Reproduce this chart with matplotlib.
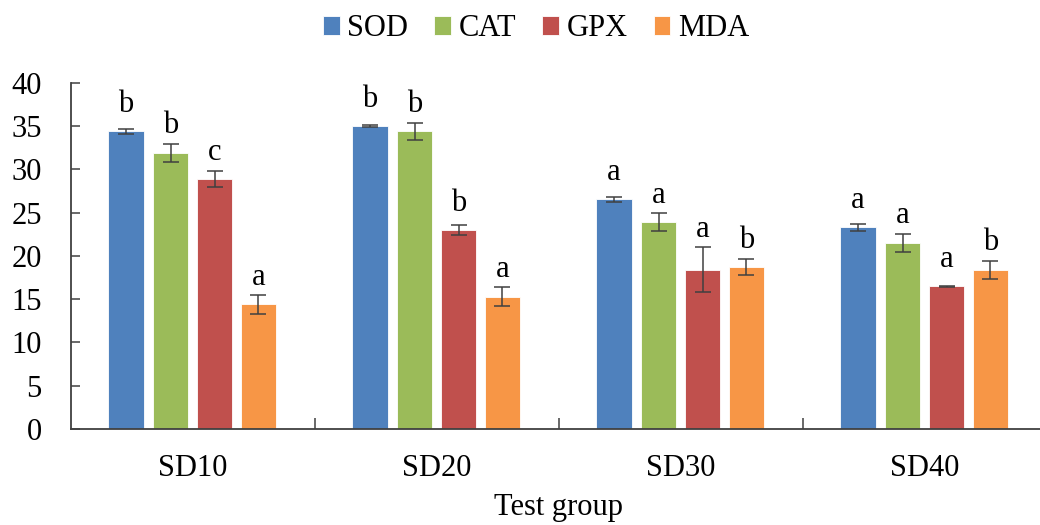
import matplotlib
matplotlib.use("Agg")
import matplotlib.pyplot as plt
import numpy as np

plt.rcParams['font.family'] = ['Liberation Serif', 'DejaVu Serif']
plt.rcParams['font.size'] = 22

groups = ["SD10", "SD20", "SD30", "SD40"]
series = ["SOD", "CAT", "GPX", "MDA"]
colors = ["#4F81BD", "#9BBB59", "#C0504D", "#F79646"]

sod = [34.4, 35.0, 26.55, 23.3]
cat = [31.9, 34.4, 23.9, 21.5]
gpx = [28.9, 23.0, 18.4, 16.5]
mda = [14.4, 15.3, 18.7, 18.4]

sod_err = [0.3, 0.15, 0.3, 0.38]
cat_err = [1.06, 0.98, 1.06, 1.06]
gpx_err = [0.92, 0.6, 2.6, 0.05]
mda_err = [1.06, 1.06, 0.96, 1.04]

sod_sig = ["b", "b", "a", "a"]
cat_sig = ["b", "b", "a", "a"]
gpx_sig = ["c", "b", "a", "a"]
mda_sig = ["a", "a", "b", "b"]

values = [sod, cat, gpx, mda]
errors = [sod_err, cat_err, gpx_err, mda_err]
letters = [sod_sig, cat_sig, gpx_sig, mda_sig]

fig = plt.figure(figsize=(10.4, 5.25), dpi=100)
ax = fig.add_axes([71 / 1040, 96 / 525, 976 / 1040, 346.3 / 525])

x = np.arange(len(groups))
offsets = [-0.275, -0.092, 0.089, 0.268]
width = 0.145

handles = []
for i in range(4):
    b = ax.bar(x + offsets[i], values[i], width, color=colors[i],
               edgecolor="white", linewidth=0.6, label=series[i], zorder=2)
    handles.append(b)
    ax.errorbar(x + offsets[i], values[i], yerr=errors[i], fmt="none",
                ecolor="#404040", elinewidth=1.1, capsize=6, capthick=1.1,
                zorder=3)
    # significance letters above each bar
    for j in range(len(groups)):
        v = values[i][j]
        e = errors[i][j]
        ypos = max(v + 2.2, v + e + 1.2)
        ax.text(x[j] + offsets[i], ypos, letters[i][j], ha="center",
                va="baseline", fontsize=22)

ax.set_xlim(-0.5, 3.5)
ax.set_ylim(0, 40)
ax.set_yticks(np.arange(0, 41, 5))
ax.set_xticks(x)
ax.set_xticklabels(groups)
ax.set_xticks(np.arange(0.5, 3.5, 1.0), minor=True)

for s in ["top", "right"]:
    ax.spines[s].set_visible(False)
for s in ["left", "bottom"]:
    ax.spines[s].set_color("#404040")
    ax.spines[s].set_linewidth(1.3)

ax.tick_params(axis="y", direction="in", length=6.5, width=1.1,
               color="#404040", pad=21)
ax.tick_params(axis="x", which="major", length=0, pad=18)
ax.tick_params(axis="x", which="minor", direction="in", length=7.7,
               width=1.1, color="#404040")

ax.set_xlabel("Test group", labelpad=7)

fig.legend(handles=handles, labels=series, loc="center",
           bbox_to_anchor=(536 / 1040, 0.945), ncol=4, frameon=False,
           handlelength=0.55, handleheight=0.55, handletextpad=0.25,
           columnspacing=0.85, fontsize=22)

fig.savefig("out.png", dpi=100)
